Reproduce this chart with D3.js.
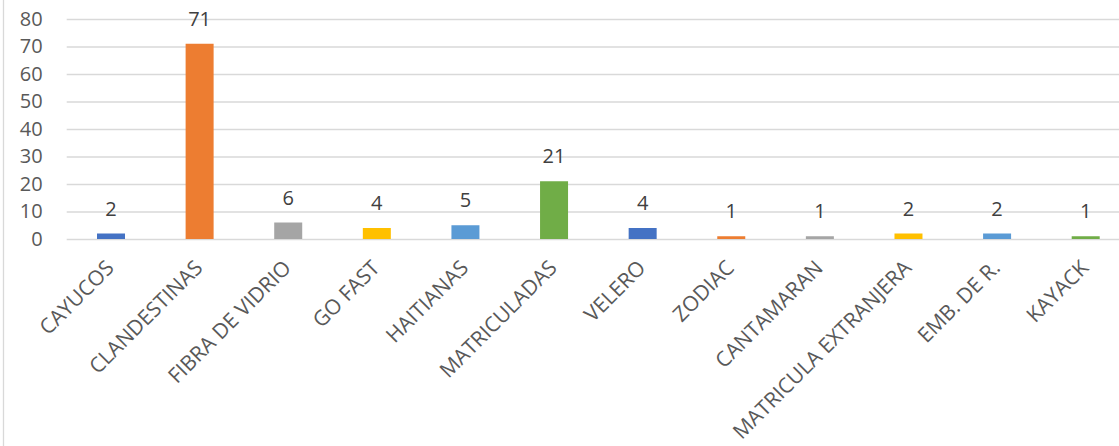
<!DOCTYPE html>
<html>
<head>
<meta charset="utf-8">
<script src="https://cdn.jsdelivr.net/npm/d3@7"></script>
<style>
  html, body { margin: 0; padding: 0; background: #fff; }
  svg { display: block; font-family: "Open Sans", "Noto Sans", sans-serif; }
</style>
</head>
<body>
<svg id="chart" width="1119" height="446"></svg>
<script>
const categories = ["CAYUCOS", "CLANDESTINAS", "FIBRA DE VIDRIO", "GO FAST", "HAITIANAS", "MATRICULADAS", "VELERO", "ZODIAC", "CANTAMARAN", "MATRICULA EXTRANJERA", "EMB. DE R.", "KAYACK"];
const values = [2, 71, 6, 4, 5, 21, 4, 1, 1, 2, 2, 1];
const colors = ["#4472C4", "#ED7D31", "#A5A5A5", "#FFC000", "#5B9BD5", "#70AD47", "#4472C4", "#ED7D31", "#A5A5A5", "#FFC000", "#5B9BD5", "#70AD47"];
const yTicks = [0, 10, 20, 30, 40, 50, 60, 70, 80];

const svg = d3.select("#chart");
const W = 1119, H = 446;
const plot = { left: 66.7, right: 1130, top: 19, bottom: 239 };

// chart border (left edge visible)
svg.append("line").attr("x1", 3.5).attr("x2", 3.5).attr("y1", 0).attr("y2", H)
  .attr("stroke", "#d9d9d9").attr("stroke-width", 1.3);

const x = d3.scaleBand().domain(categories).range([plot.left, plot.right])
  .paddingInner(0.684).paddingOuter(0.342);
const y = d3.scaleLinear().domain([0, 80]).range([plot.bottom, plot.top]);

// gridlines
const yAxis = d3.axisLeft(y).tickValues(yTicks).tickSize(-(plot.right - plot.left)).tickPadding(24);
const gy = svg.append("g").attr("transform", `translate(${plot.left},0)`).call(yAxis);
gy.select(".domain").remove();
gy.selectAll(".tick line").attr("stroke", "#d9d9d9").attr("stroke-width", 1.3);
gy.selectAll(".tick text").attr("fill", "#595959").attr("font-size", 20)
  .attr("font-family", "'Open Sans', sans-serif");

// bars
svg.append("g").selectAll("rect").data(categories).join("rect")
  .attr("x", d => x(d))
  .attr("width", x.bandwidth())
  .attr("y", (d, i) => y(values[i]))
  .attr("height", (d, i) => y(0) - y(values[i]))
  .attr("fill", (d, i) => colors[i]);

// data labels
svg.append("g").selectAll("text").data(categories).join("text")
  .attr("x", d => x(d) + x.bandwidth() / 2)
  .attr("y", (d, i) => y(values[i]) - 18)
  .attr("text-anchor", "middle")
  .attr("fill", "#404040")
  .attr("font-size", 20)
  .text((d, i) => values[i]);

// x axis labels
const xAxis = d3.axisBottom(x).tickSize(0).tickPadding(0);
const gx = svg.append("g").attr("transform", `translate(0,${plot.bottom})`).call(xAxis);
gx.select(".domain").remove();
gx.selectAll(".tick text")
  .attr("fill", "#595959")
  .attr("font-size", 21)
  .attr("font-family", "'Open Sans', sans-serif")
  .attr("text-anchor", "end")
  .attr("dy", "0.35em")
  .attr("transform", "translate(-1,25) rotate(-45)");
</script>
</body>
</html>
